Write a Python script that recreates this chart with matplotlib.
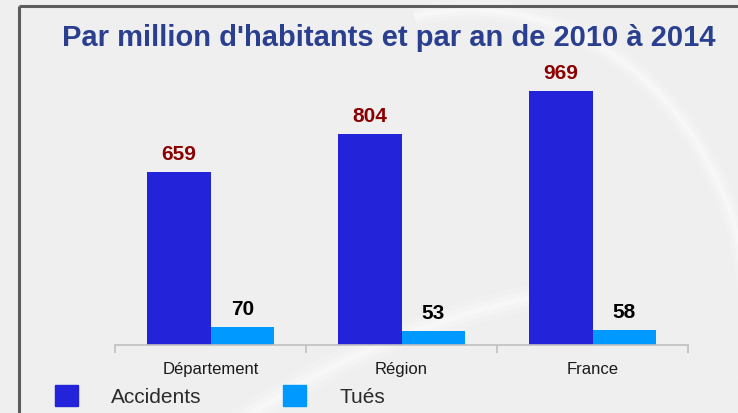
import matplotlib
matplotlib.use("Agg")
import matplotlib.pyplot as plt
import numpy as np
from matplotlib.patches import Patch, Arc

# ---- data ----
categories = ["Département", "Région", "France"]
accidents = [659, 804, 969]
tues = [70, 53, 58]
series_names = ["Accidents", "Tués"]
title = "Par million d'habitants et par an de 2010 à 2014"

# ---- style ----
plt.rcParams['font.family'] = ['Liberation Sans', 'DejaVu Sans']
W, H = 738, 413
DPI = 100
c_acc = "#2323d9"
c_tue = "#0099ff"
c_title = "#2a3f8f"
c_val_acc = "#8b0000"
bg = "#efefef"

fig = plt.figure(figsize=(W / DPI, H / DPI), dpi=DPI, facecolor=bg)

# background swooshes (decorative)
bgax = fig.add_axes([0, 0, 1, 1], zorder=-10)
bgax.set_xlim(0, W)
bgax.set_ylim(H, 0)
bgax.axis("off")
for lw, a in [(14, 0.18), (8, 0.25), (3, 0.35)]:
    bgax.add_patch(Arc((470, 330), 560, 640, theta1=-100, theta2=10,
                       color="white", lw=lw, alpha=a))
    bgax.add_patch(Arc((700, 1100), 1640, 1640, theta1=228, theta2=262,
                       color="white", lw=lw * 1.3, alpha=a))
# frame lines
bgax.plot([18.5, 18.5], [6, H], color="#5c5c5c", lw=2.2, solid_capstyle="butt")
bgax.plot([18.5, W], [6, 6], color="#5c5c5c", lw=2.2, solid_capstyle="butt")

# ---- main axes ----
left_px, right_px = 115, 688
base_px, top_px = 345, 60
ax = fig.add_axes([left_px / W, (H - base_px) / H,
                   (right_px - left_px) / W, (base_px - top_px) / H])
ax.set_facecolor("none")
px_per_unit = (345 - 172) / 659.0
ax.set_ylim(0, (base_px - top_px) / px_per_unit)
ax.set_xlim(-0.5, len(categories) - 0.5)

x = np.arange(len(categories))
bw = 0.335
b1 = ax.bar(x - bw / 2, accidents, bw, color=c_acc, label=series_names[0])
b2 = ax.bar(x + bw / 2, tues, bw, color=c_tue, label=series_names[1])

for rect, v in zip(b1, accidents):
    ax.annotate(str(v), (rect.get_x() + rect.get_width() / 2, v),
                xytext=(0, 5.5), textcoords="offset points",
                ha="center", va="bottom", fontsize=15, fontweight="bold",
                color=c_val_acc)
for rect, v in zip(b2, tues):
    ax.annotate(str(v), (rect.get_x() + rect.get_width() / 2, v),
                xytext=(0, 5.5), textcoords="offset points",
                ha="center", va="bottom", fontsize=15, fontweight="bold",
                color="black")

for s in ["top", "right", "left"]:
    ax.spines[s].set_visible(False)
ax.spines["bottom"].set_color("#c0c0c0")
ax.spines["bottom"].set_linewidth(1.2)
ax.set_yticks([])
ax.set_xticks(np.arange(len(categories) + 1) - 0.5)
ax.set_xticklabels([])
ax.tick_params(axis="x", which="major", length=5.5, width=1.2, color="#c0c0c0",
               direction="out")
ax.set_xticks(x, minor=True)
ax.set_xticklabels(categories, minor=True, fontsize=12, color="#1a1a1a")
ax.tick_params(axis="x", which="minor", length=0, pad=12)

# title
fig.text(389 / W, 1 - 38 / H, title, ha="center", va="center",
         fontsize=21, fontweight="bold", color=c_title)

# legend
handles = [Patch(color=c_acc), Patch(color=c_tue)]
leg = fig.legend(handles, series_names, loc="center left",
                 bbox_to_anchor=(55 / W, 1 - 396 / H), ncol=2, frameon=False,
                 fontsize=15, handlelength=1.1, handleheight=1.15,
                 handletextpad=1.6, columnspacing=3.9, borderpad=0,
                 borderaxespad=0)
for t in leg.get_texts():
    t.set_color("#2b2b2b")

fig.savefig("out.png", dpi=DPI, facecolor=bg)
